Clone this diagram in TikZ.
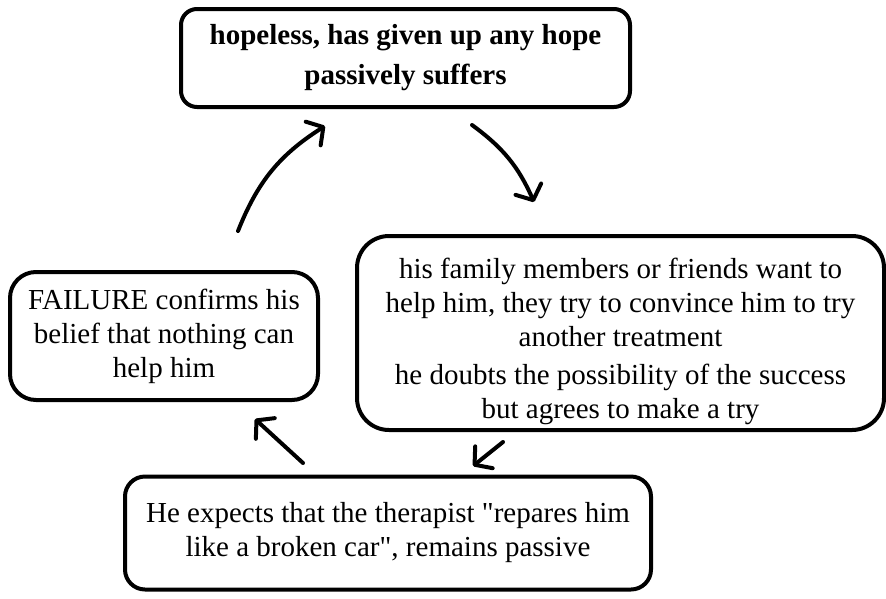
\documentclass[tikz,border=0pt]{standalone}
\usepackage{fontspec}
\setmainfont{Liberation Serif}
\newfontfamily\plainquote{Liberation Serif}
\newcommand{\dq}{{\plainquote\symbol{34}}}
\usetikzlibrary{arrows.meta}
\begin{document}
\begin{tikzpicture}[x=1pt,y=-1pt,
  box/.style={draw, line width=4pt, inner sep=0pt, align=center,
    font=\fontsize{29}{34}\selectfont},
  arr/.style={line width=4pt, line cap=round,
    -{Straight Barb[length=12pt,width=28pt,line cap=round,line join=round]}}]
\useasboundingbox (0,0) rectangle (886,598);
\node[box, rounded corners=16pt, minimum width=449pt, minimum height=98pt,
  font=\fontsize{29}{40}\selectfont\bfseries] (top) at (405.5,58)
  {hopeless, has given up any hope\\passively suffers};
\node[box, rounded corners=32pt, minimum width=527pt, minimum height=194pt] (right) at (620.5,333)
  {\rule{0pt}{38pt}his family members or friends want to\\help him, they try to convince him to try\\another treatment\\[4pt]
   he doubts the possibility of the success\\but agrees to make a try};
\node[box, rounded corners=26pt, minimum width=308pt, minimum height=128pt] (left) at (164,336)
  {FAILURE confirms his\\belief that nothing can\\help him};
\node[box, rounded corners=20pt, minimum width=526pt, minimum height=113pt] (bottom) at (388,533)
  {He expects that the therapist \dq repares him\\like a broken car\dq, remains passive};
\coordinate (a1s) at (238,231);
\coordinate (a1e) at (325,126);
\coordinate (a2s) at (472,125);
\coordinate (a2e) at (534,202);
\coordinate (a3s) at (503,442);
\coordinate (a3e) at (473,466);
\coordinate (a4s) at (303,463);
\coordinate (a4e) at (255,419);
\draw[arr] (a1s) to[bend left=18] (a1e);
\draw[arr] (a2s) to[bend left=15] (a2e);
\draw[arr] (a3s) -- (a3e);
\draw[arr] (a4s) -- (a4e);
\end{tikzpicture}
\end{document}
